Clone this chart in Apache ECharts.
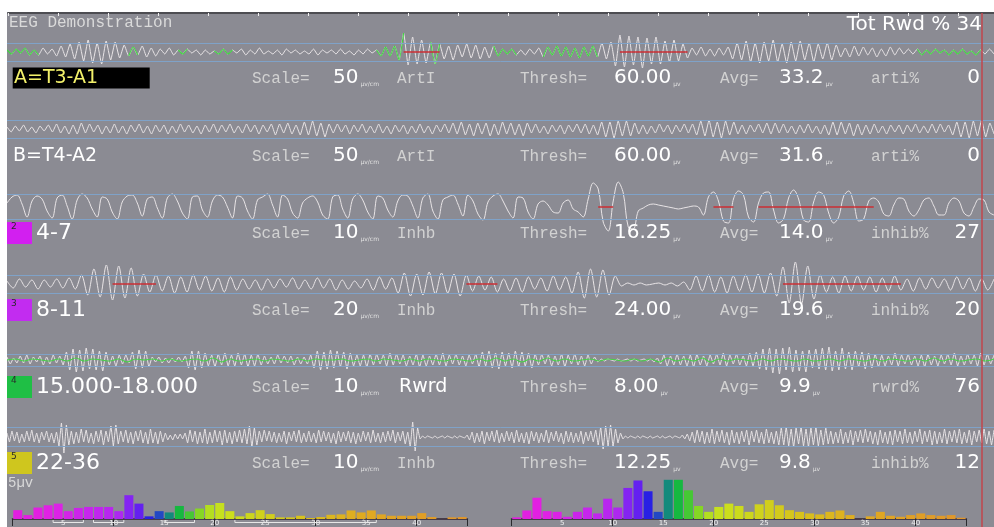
<!DOCTYPE html>
<html>
<head>
<meta charset="utf-8">
<script src="https://cdn.jsdelivr.net/npm/echarts@6/dist/echarts.min.js"></script>
<style>html,body{margin:0;padding:0;background:#fff}#c{width:994px;height:527px}</style>
</head>
<body>
<div id="c"></div>
<script>
// ---- channel readouts ----
const chanLabels = ['A=T3-A1', 'B=T4-A2', '4-7', '8-11', '15.000-18.000', '22-36'];
const badgeNums = ['', '', '2', '3', '4', '5'];
const scaleVals = [50, 50, 10, 20, 10, 10];          // µV/cm
const modes = ['ArtI', 'ArtI', 'Inhb', 'Inhb', 'Rwrd', 'Inhb'];
const threshVals = [60, 60, 16.25, 24, 8, 12.25];    // µV
const avgVals = [33.2, 31.6, 14.0, 19.6, 9.9, 9.8];  // µV
const pctLabels = ['arti%', 'arti%', 'inhib%', 'inhib%', 'rwrd%', 'inhib%'];
const pctVals = [0, 0, 27, 20, 76, 12];
const totRwd = 34;

// ---- EEG traces (deflection in screen units, up = positive) ----
const trA = [2,-2,3,-1,4,-3,2,-3,4,-2,3,-4,
  6,-5,8,-7,10,-9,12,-11,9,-12,11,-8,10,-6,7,
  -4,5,-3,6,-5,4,-4,3,-2,4,-3,
  2,-2,3,-1,2,-3,2,-2,1,-2,3,-2,2,-1,3,-3,2,-2,4,-2,1,-2,2,-3,3,-1,2,-2,1,-2,3,-3,2,-1,2,-2,3,-2,1,-3,2,-2,3,-1,2,
  -4,5,-4,6,
  -8,19,-13,15,-12,
  12,-11,10,-12,
  8,-7,6,-8,7,-5,8,-6,7,-7,5,-6,6,-4,
  3,-2,3,-3,2,-3,3,-2,
  4,-5,5,-3,6,-4,5,-5,4,-6,5,-4,6,-5,
  9,-7,10,
  -14,17,-15,16,-13,15,-16,14,-12,15,
  -12,11,-10,12,-9,8,-6,
  4,-3,5,-4,3,-4,4,-3,5,
  -7,9,-8,11,-10,9,-11,10,-9,12,-10,8,-11,10,-9,11,-8,9,-10,8,-7,9,-8,7,
  -5,4,-5,6,-4,5,-3,4,-5,3,-4,5,-3,4,-2,
  3,-2,3,-3,2,-2,3,-1,2,-3,2,-2,3,-2,1,-3,2,-2,3,-2];
const trB = [2,-3,3,-2,4,-3,2,-4,3,-2,4,-3,5,-4,3,
  -5,4,-5,6,-4,5,-3,4,-5,3,-4,5,-4,3,-5,
  4,-3,5,-4,3,-5,4,-3,4,-5,3,-4,5,-3,4,
  -4,3,-5,4,-3,5,-4,4,-3,5,-4,3,-4,5,-3,
  4,-5,4,-3,5,-6,5,-4,6,-5,4,-6,7,-6,8,
  -7,6,-8,5,-4,5,-3,4,-5,4,-3,5,-4,3,-4,
  5,-4,3,-5,4,-3,4,-5,3,-4,5,-4,3,-5,4,
  -3,5,-4,6,-5,7,-6,5,-7,6,-5,6,-7,5,-6,
  7,-5,6,-6,5,-7,6,-4,5,-4,3,-5,4,-3,4,
  -5,4,-3,5,-4,5,-5,4,-6,7,-8,7,-9,8,-7,
  8,-7,6,-5,4,-5,3,-4,5,-3,4,-5,4,-3,5,
  -4,5,-6,8,-7,9,-8,7,-9,8,-6,7,-5,4,-5,
  4,-3,5,-4,6,-5,6,-4,5,-4,3,-5,4,-4,5,
  -4,3,-5,4,-6,7,-6,7,-5,6,-7,5,-6,4,-5,
  5,-4,3,-5,4,-3,4,-5,4,-3,5,-4,3,-4,5,
  -4,5,-3,4,-6,7,-8,7,-9,8,-7,9,-8,6,-5];
const trTheta = [4,10,12,3,-10, 6,11,8,-4,-11, 9,12,1,-12, 7,13,9,-2,-10, 10,8,-5,-12,
  5,11,12,4,-9, 8,10,-1,-11, 9,13,6,-6,-12, 10,11,-3,-10, 6,12,10,0,-11, 11,9,-4,-12,
  7,10,13,2,-10, 12,8,-6,-11, 4,9,11,5,-8,-12, 10,12,-2,-11, 8,13,7,-5,-12, 11,9,-3,-10,
  6,12,11,1,-11, 9,13,-4,-12, 7,10,12,3,-9, 12,6,-7,-13, 5,11,13,6,-4,-11, 10,9,-5,-12,
  3,6,2,-5,-6, 4,7,-2,-5,
  -10,8,24,18,-15,-24,6,25,14,-20,-22,
  -4,-1,2,3,2,1,0,-1,-2,-1,0,1,0,
  -8,10,15,6,-14,-16,8,16,12,-10,-15,4,14,15,-3,-16,-12,9,17,8,-13,-15,5,15,12,-6,-16,-10,11,16,4,-14,-12,6,
  9,5,-7,-9,2,9,8,-4,-9,-3,7,9,1,-8,-8,4,9,6,-6,-9,0,8,7,-5,-8];
const trAlpha = [3,-4,5,-3,4,-5,4,-3,5,-4,6,-5,
  9,-11,15,-13,19,-16,18,-14,16,-12,10,
  -8,9,-7,8,-9,7,-8,9,-6,8,-7,6,-8,7,-6,5,
  -5,4,-6,5,-4,5,-3,6,-5,4,-5,6,-4,5,-6,4,-5,3,-4,5,-6,7,-5,6,
  -9,11,-12,10,-11,12,-10,11,-9,10,-12,9,
  -7,8,-6,7,-8,5,-7,6,-8,7,-5,6,-7,8,-6,7,-9,
  12,-14,15,-13,14,-11,8,
  -2,1,-1,1,-1,0,1,-1,1,-2,2,
  -6,8,-7,9,-8,7,-9,8,-7,9,-8,10,-9,11,-12,
  17,-19,22,-20,18,-15,
  9,-8,7,-9,8,-7,8,-6,7,-8,6,-7,8,
  -6,5,-7,6,-5,6,-4,5,-6,7,-5,6,-7,5,-6,5];
const trSmr = [3,-4,2,-3,4,-3,5,-4,3,-2,4,-5,3,-4,5,-3,4,-5,
  8,-10,11,-12,10,-11,12,-9,11,-10,9,-11,8,
  -5,4,-6,5,-4,5,-3,
  8,-9,10,-8,9,-7,
  3,-2,3,-3,2,-3,2,-2,3,-2,4,
  -8,9,-10,9,-8,7,
  -6,5,-7,6,-5,7,-6,5,-6,7,-5,6,-7,5,-6,6,-5,4,
  -4,3,-4,5,-3,4,-3,4,-5,3,-4,3,-4,5,
  -8,9,-10,8,-9,10,-8,9,-7,8,-9,7,-6,5,
  -6,5,-7,6,-5,6,-4,5,-6,7,-5,6,-4,5,-6,4,-5,6,-7,5,-6,4,-5,6,-5,7,-6,5,-4,6,-5,4,-6,5,-4,6,
  -7,8,-6,9,-8,7,-9,8,-6,7,-8,9,-7,8,-6,7,-8,6,
  -5,6,-4,5,-6,4,-5,6,-7,5,-4,6,-5,4,-6,5,-4,3,-2,
  1,-1,1,0,-1,1,-1,0,1,-1,1,-1,0,1,-1,1,-2,2,
  -4,5,-6,4,-5,6,-5,4,-6,5,-7,6,-5,4,-6,5,-4,6,-5,7,-6,5,-4,6,-5,4,-6,7,-6,8,
  -9,11,-10,12,-13,11,-14,12,-10,13,-12,10,-11,9,-12,10,-8,11,-9,12,-10,13,-11,9,-10,12,-9,8,-10,9,-7,8,-9,7,-8,6,-7,
  5,-6,4,-5,7,-6,5,-4,6,-5,4,-6,5,-7,6,-5,4,-6,5,-4,6,-5,7,-6,4,-5,6,-4,5,-6,7,-5,6,-4,5];
const trBeta = [4,-5,6,-4,5,-6,3,-5,6,-4,7,-5,4,-6,5,-3,6,-5,4,-6,5,
  -9,14,-16,12,-8,
  6,-7,5,-6,8,-5,7,-6,4,-7,6,-5,7,-8,6,-5,
  11,-9,12,-7,
  6,-5,7,-6,5,-7,6,-4,7,-6,5,-7,8,-6,5,-7,6,-5,4,
  -3,2,-3,3,-2,3,-2,4,
  -6,7,-5,6,-7,5,-6,8,-7,5,-6,7,-5,6,-8,7,-6,5,-7,6,-5,7,-6,8,-7,
  11,-10,9,-8,
  6,-5,7,-4,6,-5,5,-6,4,-5,6,-7,5,-4,6,-5,7,-6,4,-5,6,-5,4,-6,7,-5,6,-4,5,-6,4,-7,6,-5,5,-4,6,-6,5,-7,4,-5,6,-4,5,-6,7,-5,4,-6,5,-5,6,-4,7,-6,5,-4,6,-7,5,
  -10,15,-14,9,
  -2,1,-1,1,0,-1,1,-1,0,1,-1,1,0,-1,1,-1,1,0,-1,2,-3,
  5,-6,4,-5,6,-7,5,-4,6,-5,7,-6,4,-5,6,-4,5,-6,7,-5,4,-6,5,-7,6,-4,5,-6,4,-5,7,-6,5,-4,6,-5,4,-7,6,-5,5,-6,4,-5,6,-7,5,-4,6,-5,7,-8,
  10,-12,11,-9,12,-10,8,-6,4,-2,
  1,-1,1,0,-1,1,-1,1,0,-1,1,-1,0,1,-1,1,-1,0,1,-1,1,0,-1,2,-2,3,-4,
  5,-6,7,-5,6,-7,5,-6,8,-7,6,-5,7,-6,5,-8,7,-6,5,-7,6,-5,7,-8,6,-5,7,-6,5,-7,8,-6,5,-7,6,-8,
  9,-8,10,-9,8,-10,9,-7,10,-9,8,-10,9,-8,10,-9,7,-8,9,-7,
  6,-7,5,-6,8,-7,5,-6,7,-8,6,-5,7,-6,8,-5,6,-7,5,-8,7,-6,5,-7,6,-8,7,-5,6,-7,8,-6,5,-7,6,-5,8,-7,6,-5,7,-8,6,-7,5,-6,8,-7,6,-5,7,-6,8,-7,5,-6,7,-8,6,-5,7,-6,8,-7,6,-8,7];
// reward-band feedback signal drawn over the 15-18 channel
const rwdLine = [0,1,-1,1,0,-1,1,-1,2,-1,1,0,-1,1,-2,1,0,1,-1,1,-1,0,1,-1,2,-2,1,-1,0,1,-1,1,0,-1,1,-1,1,0,0,1,-1,0,1,-1,1,0,-1,1,-1,1,0,-1,1,0,-1,1,-1,2,-1,1,-2,1,-1,2,-1,1,-1,0,1,-1,1,0,-1,1,-1,1,-2,2,-1,1,-1,2,-2,1,-1,1,0,-1,1,-1,1,0,-1,1,-1,0,1,-1,1,0,-1,1,-1,1,0,-1,1,-1,2,-1,1,-1,0,1,-1,1];
const traces = [trA, trB, trTheta, trAlpha, trSmr, trBeta];

// sample-index spans where channel A was clean (green) and where a band crossed its threshold (red)
const cleanSpansA = [[0,4],[5,7],[27,29],[38,40],[46,50],[82,88],[94,96],[108,113],[119,131],[202,216]];
const overSpans = [[[88,96],[136,151]], [], [[118,121],[141,145],[150,173]], [[17,24],[74,79],[125,144]], [], []];

// ---- amplitude spectra, 1 Hz bins 0-45 Hz ----
const leftPower = [9,4,11.7,14,15.7,8,11.3,12.3,12.3,12.3,8,24.3,15.7,2.7,8,6.7,13.3,7.7,10.7,14.3,16.3,8,
  2.7,6,9,5,1.7,1.7,3.3,1,2,4.3,4.7,8.7,6.7,8.7,4.7,3.3,3.3,3.3,6,2,0,1.7,2];
const rightPower = [1.7,8.7,21.7,8,7.3,2.3,7.3,11.7,5.7,20.7,11.7,31.7,39.3,28.3,7.3,40,40,29.3,13.3,7.3,12.3,15.7,13.3,
  7.3,15,19.3,14,9,7.3,5.7,4.7,7.3,8.7,4,0,2.7,7.3,3.3,2.3,4,5.7,4,3.3,4,1.3];
const bandRanges = [[4,7],[8,11],[15,18],[22,36]];

// ---- styling / layout ----
const binColors = ['#e21fe0','#e21fe0','#e21fe2','#e021e4','#dc22e6','#d424e8','#cc24ea','#c626ec','#c026ee','#b826ee',
  '#ae28f0','#8424f2','#6420f0','#2820e4','#2248c4','#128a7c','#16b840','#46c834','#86d624','#b4de20',
  '#c6e01e','#ccde1c','#ccda1c','#cdd61c','#cfd21c','#d1ce1c','#d3ca1c','#d5c61c','#d7c21c','#d9be1c',
  '#dbba1c','#dcb61e','#ddb21e','#deae20','#dfaa20','#e0a822','#e0a622','#e0a424','#e0a224','#e0a026',
  '#e09e26','#e09c28','#e09a28','#e0982a','#e0962a'];
const badgeColors = ['', '', '#d21ff0', '#c22cf0', '#1fbf45', '#cfc61e'];
const PX_PER_CM = 7.7;
const traceCenters = [52, 129, 207, 284, 360, 437];
const rowY = [78, 156, 233, 310, 387, 463];
const HALF = 35;
const TRACE_COLOR = '#e8e4e6';
const MONO = '"Liberation Mono", monospace';
const SANS = '"DejaVu Sans", sans-serif';

const mctx = document.createElement('canvas').getContext('2d');
function textWidth(s, font) { mctx.font = font; return mctx.measureText(s).width; }

function spanMask(data, spans, fillZero) {
  return data.map((v, i) => spans.some(s => i >= s[0] && i <= s[1]) ? (fillZero ? 0 : v) : null);
}

const grid = [], xAxis = [], yAxis = [], series = [];

traces.forEach((tr, c) => {
  grid.push({ left: 7, right: 0, top: traceCenters[c] - HALF, height: HALF * 2 });
  xAxis.push({ gridIndex: c, type: 'category', boundaryGap: false, show: false, data: tr.map((_, i) => i) });
  yAxis.push({ gridIndex: c, type: 'value', min: -HALF, max: HALF, show: false });
});

// threshold guide lines: ±threshold converted through the channel scale
traces.forEach((tr, c) => {
  const t = threshVals[c] / scaleVals[c] * PX_PER_CM;
  series.push({
    type: 'line', xAxisIndex: c, yAxisIndex: c, data: [], z: 1, silent: true,
    markLine: { silent: true, symbol: 'none', animation: false, label: { show: false },
      lineStyle: { color: '#7fa2c8', width: 1, type: 'solid' },
      data: [{ yAxis: t }, { yAxis: -t }] }
  });
});

const smoothBy = [0.15, 0.12, 0.35, 0.3, 0.12, 0.08];
traces.forEach((tr, c) => {
  series.push({
    type: 'line', xAxisIndex: c, yAxisIndex: c, data: tr, smooth: smoothBy[c], showSymbol: false,
    silent: true, animation: false, z: 3,
    lineStyle: { color: TRACE_COLOR, width: 1 }
  });
});

// clean segments of channel A
series.push({
  type: 'line', xAxisIndex: 0, yAxisIndex: 0, data: spanMask(trA, cleanSpansA, false), smooth: smoothBy[0],
  showSymbol: false, connectNulls: false, silent: true, animation: false, z: 4,
  lineStyle: { color: '#3fd83f', width: 1.1 }
});

// reward feedback on the 15-18 channel
xAxis.push({ gridIndex: 4, type: 'category', boundaryGap: false, show: false, data: rwdLine.map((_, i) => i) });
series.push({
  type: 'line', xAxisIndex: 6, yAxisIndex: 4, data: rwdLine, smooth: 0.4, showSymbol: false,
  silent: true, animation: false, z: 4, lineStyle: { color: '#46d246', width: 1.1 }
});

// threshold-crossing markers
overSpans.forEach((spans, c) => {
  if (!spans.length) return;
  series.push({
    type: 'line', xAxisIndex: c, yAxisIndex: c, data: spanMask(traces[c], spans, true),
    showSymbol: false, connectNulls: false, silent: true, animation: false, z: 5,
    lineStyle: { color: '#cc2f35', width: 1.5 }
  });
});

// time ruler along the top edge (one tick per second)
grid.push({ left: 8, right: 0, top: 13, height: 10 });
xAxis.push({ gridIndex: 6, type: 'value', position: 'top', min: 0, max: 19.72, interval: 1,
  axisLine: { onZero: false, lineStyle: { color: '#3a3a3e', width: 1.5 } },
  axisTick: { inside: true, length: 3, lineStyle: { color: '#f0f0f0', width: 1 } },
  axisLabel: { show: false }, splitLine: { show: false } });
yAxis.push({ gridIndex: 6, type: 'value', min: 0, max: 1, show: false });

// spectra
function addSpectrum(left, power, withBands) {
  const g = grid.length;
  grid.push({ left: left, width: 454.5, top: 470, height: 50 });
  const xa = xAxis.length;
  xAxis.push({ gridIndex: g, type: 'value', position: 'bottom', min: 0, max: 45, interval: 5,
    axisLine: { onZero: false, lineStyle: { color: '#463c4a', width: 2 } },
    axisTick: { show: false }, splitLine: { show: false },
    axisLabel: { color: '#f2f2f2', fontSize: 7, fontFamily: 'DejaVu Sans', margin: 1,
      formatter: v => (v > 0 && v < 45) ? String(v) : '' } });
  xAxis.push({ gridIndex: g, type: 'value', position: 'bottom', min: 0, max: 45, interval: 10,
    axisLine: { show: false, onZero: false }, splitLine: { show: false }, axisLabel: { show: false },
    axisTick: { show: true, length: 7, lineStyle: { color: '#2a2a2e', width: 1 } } });
  const ya = yAxis.length;
  yAxis.push({ gridIndex: g, type: 'value', min: 0, max: 50, show: false });
  series.push({
    type: 'bar', xAxisIndex: xa, yAxisIndex: ya, barWidth: 9, silent: true, animation: false, z: 2,
    data: power.map((v, i) => ({ value: [i + 0.5, v], itemStyle: { color: binColors[i] } }))
  });
  if (withBands) {
    series.push({
      type: 'custom', xAxisIndex: xa, yAxisIndex: ya, clip: false, silent: true, animation: false, z: 6,
      data: bandRanges,
      renderItem: (params, api) => {
        const a = api.coord([api.value(0), 0]);
        const b = api.coord([api.value(1), 0]);
        return { type: 'polyline', shape: { points: [[a[0], a[1] + 1], [a[0], a[1] + 3.5], [b[0], b[1] + 3.5], [b[0], b[1] + 1]] },
          style: { stroke: '#e6e6e6', fill: null, lineWidth: 1 } };
      }
    });
  }
}
addSpectrum(12.7, leftPower, true);
addSpectrum(511.7, rightPower, false);

// ---- text and frame ----
const graphic = [];
function txt(x, y, s, font, color, align) {
  graphic.push({ type: 'text', x: x, y: y, z: 100, silent: true,
    style: { text: s, font: font, fill: color, align: align || 'left', verticalAlign: 'middle',
      textAlign: align || 'left', textVerticalAlign: 'middle' } });
}
function rect(x, y, w, h, color, z) {
  graphic.push({ type: 'rect', z: z || 90, silent: true, shape: { x: x, y: y, width: w, height: h }, style: { fill: color } });
}

rect(0, 0, 994, 12, '#ffffff', 80);
rect(0, 0, 7, 527, '#ffffff', 80);
graphic.push({ type: 'line', z: 95, silent: true, shape: { x1: 982, y1: 13, x2: 982, y2: 527 },
  style: { stroke: '#c2464c', lineWidth: 1.5 } });

txt(9, 23, 'EEG Demonstration', '16px ' + MONO, '#dadada');
txt(982, 25, 'Tot Rwd % ' + totRwd, '20px ' + SANS, '#ffffff', 'right');
txt(8, 483, '5\u00b5v', '14px ' + MONO, '#d8d8d8');

const VAL_FONT = '20px ' + SANS;
const UNIT_FONT = '6px ' + SANS;
chanLabels.forEach((lab, c) => {
  const y = rowY[c];
  if (c === 0) {
    rect(12.7, y - 10.5, 137, 21, '#000000', 98);
    txt(14, y, lab, '19px ' + SANS, '#f2f06a');
  } else if (c === 1) {
    txt(13, y, lab, '19px ' + SANS, '#ffffff');
  } else {
    rect(7, y - 11, 25, 22, badgeColors[c], 98);
    txt(11, y - 6, badgeNums[c], '9px ' + SANS, '#2a2a2a');
    txt(36, y, lab, '22px ' + SANS, '#ffffff');
  }
  txt(252, y + 1, 'Scale=', '16px ' + MONO, '#d2d2d2');
  const sv = String(scaleVals[c]);
  txt(333, y, sv, VAL_FONT, '#ffffff');
  txt(333 + textWidth(sv, VAL_FONT) + 2, y + 6, '\u00b5v/cm', UNIT_FONT, '#e0e0e0');
  if (modes[c] === 'Rwrd') txt(399, y, modes[c], '19px ' + SANS, '#ffffff');
  else txt(397, y + 1, modes[c], '16px ' + MONO, '#d2d2d2');
  txt(520, y + 1, 'Thresh=', '16px ' + MONO, '#d2d2d2');
  const tv = threshVals[c].toFixed(2);
  txt(614, y, tv, VAL_FONT, '#ffffff');
  txt(614 + textWidth(tv, VAL_FONT) + 2, y + 6, '\u00b5v', UNIT_FONT, '#e0e0e0');
  txt(720, y + 1, 'Avg=', '16px ' + MONO, '#d2d2d2');
  const av = avgVals[c].toFixed(1);
  txt(779, y, av, VAL_FONT, '#ffffff');
  txt(779 + textWidth(av, VAL_FONT) + 2, y + 6, '\u00b5v', UNIT_FONT, '#e0e0e0');
  txt(871, y + 1, pctLabels[c], '16px ' + MONO, '#d2d2d2');
  txt(980, y, String(pctVals[c]), VAL_FONT, '#ffffff', 'right');
});

const chart = echarts.init(document.getElementById('c'), null, { renderer: 'canvas', width: 994, height: 527 });
chart.setOption({
  backgroundColor: '#8b8b93',
  animation: false,
  grid: grid,
  xAxis: xAxis,
  yAxis: yAxis,
  series: series,
  graphic: graphic
});
</script>
</body>
</html>
